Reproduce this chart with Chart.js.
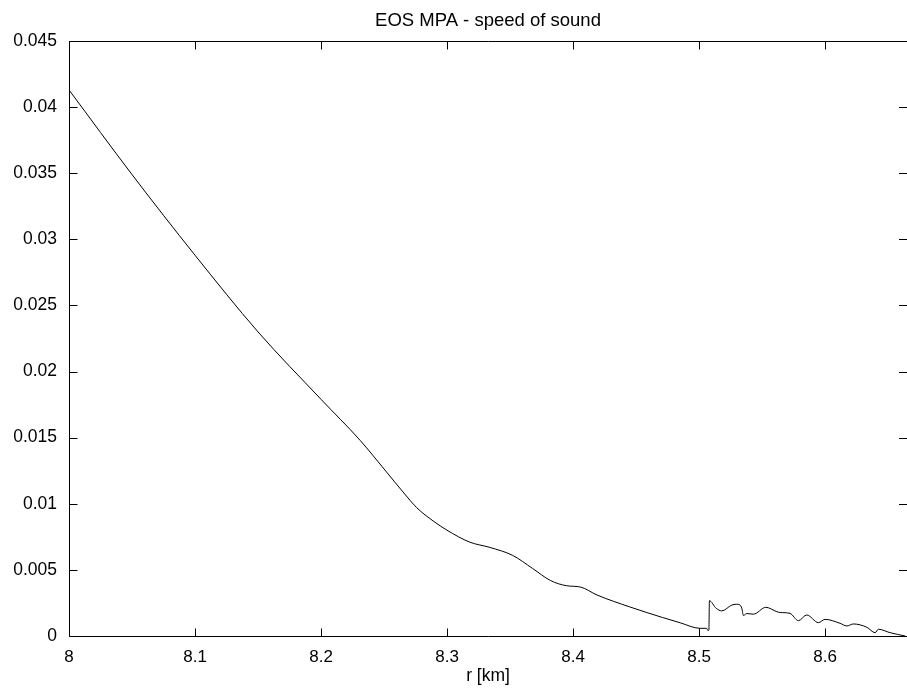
<!DOCTYPE html>
<html><head><meta charset="utf-8">
<script src="https://cdn.jsdelivr.net/npm/chart.js@4"></script>
<style>html,body{margin:0;padding:0;background:#fff}#wrap{width:907px;height:692px}</style>
</head><body><div id="wrap"><canvas id="c" width="907" height="692"></canvas></div>
<script>
const rValues = [8.000, 8.050, 8.100, 8.150, 8.200, 8.231, 8.252, 8.265, 8.276, 8.289,
  8.300, 8.318, 8.334, 8.352, 8.368, 8.382, 8.395, 8.406, 8.419, 8.445, 8.471, 8.485, 8.5008, 8.506,
  8.5071, 8.5078, 8.5082, 8.5135, 8.518, 8.526, 8.5295, 8.5325, 8.5339, 8.5352, 8.5378, 8.5431, 8.553,
  8.5617, 8.5643, 8.5722, 8.5788, 8.5855, 8.5947, 8.600, 8.6119, 8.6172, 8.6225, 8.6331, 8.6397, 8.6423,
  8.6516, 8.6635];
const soundSpeed = [0.0413, 0.0349, 0.0288, 0.0230, 0.0179, 0.0148, 0.0124, 0.0109, 0.0097, 0.0087,
  0.0080, 0.0071, 0.0067, 0.0061, 0.0051, 0.0042, 0.0038, 0.0037, 0.0031, 0.0022, 0.0014, 0.0010, 0.00058, 0.00058,
  0.0004, 0.0005, 0.00267, 0.0021, 0.0019, 0.00234, 0.0024, 0.00234, 0.0021, 0.00155, 0.0017, 0.00165, 0.00217,
  0.00184, 0.00178, 0.00171, 0.00116, 0.00159, 0.00101, 0.00126, 0.00096, 0.00076, 0.00091, 0.00066, 0.00025, 0.00051,
  0.00025, 0.0];
const xTicks = [8, 8.1, 8.2, 8.3, 8.4, 8.5, 8.6];
const xTickLabels = ['8', '8.1', '8.2', '8.3', '8.4', '8.5', '8.6'];
const yTicks = [0, 0.005, 0.01, 0.015, 0.02, 0.025, 0.03, 0.035, 0.04, 0.045];
const yTickLabels = ['0', '0.005', '0.01', '0.015', '0.02', '0.025', '0.03', '0.035', '0.04', '0.045'];
const chartTitle = 'EOS MPA - speed of sound';
const xTitle = 'r [km]';

Chart.defaults.font.family = '"Liberation Sans", Arial, Helvetica, sans-serif';
Chart.defaults.color = '#000';

const framePlugin = {
  id: 'frame',
  afterDatasetsDraw(chart) {
    const {ctx, chartArea: a, scales: {x, y}} = chart;
    ctx.save();
    ctx.strokeStyle = '#000';
    ctx.lineWidth = 1;
    const L = Math.round(a.left) + 0.5, R = Math.round(a.right) - 0.5;
    const T = Math.round(a.top) + 0.5, B = Math.round(a.bottom) + 0.5;
    ctx.beginPath();
    ctx.moveTo(L, B); ctx.lineTo(L, T); ctx.lineTo(a.right, T);
    ctx.moveTo(L, B); ctx.lineTo(a.right, B);
    ctx.stroke();
    const len = 8;
    ctx.beginPath();
    x.ticks.forEach(t => {
      const px = Math.round(x.getPixelForValue(t.value)) + 0.5;
      ctx.moveTo(px, B); ctx.lineTo(px, B - len);
      ctx.moveTo(px, T); ctx.lineTo(px, T + len);
    });
    y.ticks.forEach(t => {
      const py = Math.round(y.getPixelForValue(t.value)) + 0.5;
      ctx.moveTo(L, py); ctx.lineTo(L + len, py);
      ctx.moveTo(a.right, py); ctx.lineTo(a.right - len, py);
    });
    ctx.stroke();
    ctx.restore();
  }
};

new Chart(document.getElementById('c'), {
  type: 'line',
  data: {
    datasets: [{
      data: rValues.map((r, i) => ({x: r, y: soundSpeed[i]})),
      borderColor: '#000',
      borderWidth: 1,
      pointRadius: 0,
      fill: false,
      cubicInterpolationMode: 'monotone'
    }]
  },
  options: {
    responsive: false,
    animation: false,
    devicePixelRatio: 1,
    layout: {padding: {left: 0, right: 0, top: 0, bottom: 0}},
    plugins: {
      legend: {display: false},
      tooltip: {enabled: false},
      title: {
        display: true, text: chartTitle, fullSize: false, color: '#000',
        font: {size: 18.5, weight: 'normal'}, padding: {top: 10, bottom: 8.8}
      }
    },
    scales: {
      x: {
        type: 'linear', min: 8, max: 8.665,
        afterBuildTicks: s => { s.ticks = xTicks.map(v => ({value: v})); },
        afterFit: s => { s.height = 56; },
        ticks: {callback: (v, i) => xTickLabels[i], font: {size: 17}, color: '#000', padding: 11, maxRotation: 0, autoSkip: false},
        grid: {display: false, drawTicks: false},
        border: {display: false},
        title: {display: true, text: xTitle, color: '#000', font: {size: 17.5}, padding: {top: 0, bottom: 5}}
      },
      y: {
        type: 'linear', min: 0, max: 0.045,
        afterBuildTicks: s => { s.ticks = yTicks.map(v => ({value: v})); },
        afterFit: s => { s.width = 69; },
        ticks: {callback: (v, i) => yTickLabels[i], font: {size: 17.5}, color: '#000', padding: 12, autoSkip: false},
        grid: {display: false, drawTicks: false},
        border: {display: false}
      }
    }
  },
  plugins: [framePlugin]
});
</script>
</body></html>
